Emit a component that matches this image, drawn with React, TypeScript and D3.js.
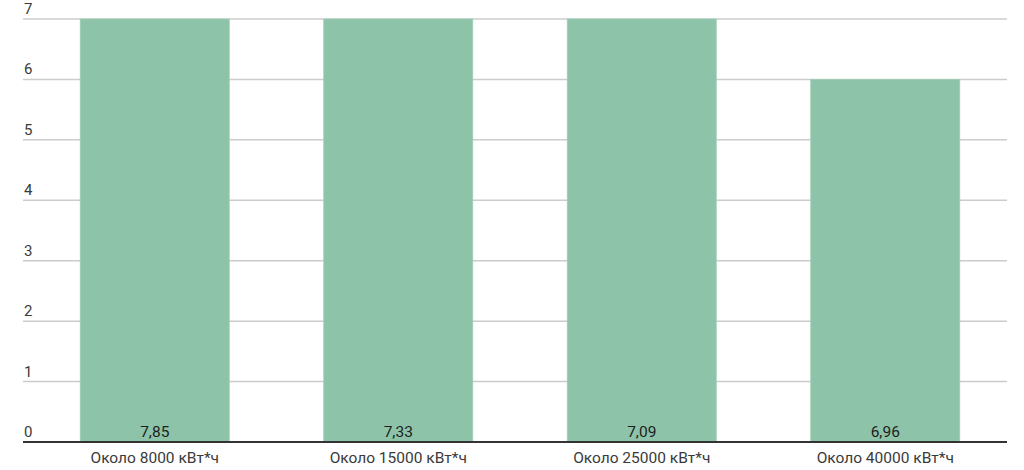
import React from "react";
import * as d3 from "d3";

const categories = ["Около 8000 кВт*ч", "Около 15000 кВт*ч", "Около 25000 кВт*ч", "Около 40000 кВт*ч"];
const barValues = [7, 7, 7, 6];
const valueLabels = ["7,85", "7,33", "7,09", "6,96"];
const yTicks = [0, 1, 2, 3, 4, 5, 6, 7];

const W = 1024;
const H = 470;
const gridLeft = 23;
const plotRight = 1007;

export default function App() {
  const x = d3.scaleBand<string>().domain(categories).range([33, plotRight]).paddingInner(0.388).paddingOuter(0.194);
  const y = d3.scaleLinear().domain([0, 7]).range([442, 19]);
  const font = "Roboto, 'Noto Sans', sans-serif";
  return (
    <svg width={W} height={H} style={{ position: "absolute", left: 0, top: 0, background: "#fff" }}>
      {yTicks.map((t) => (
        <g key={t}>
          {t !== 0 && (
            <line x1={gridLeft} x2={plotRight} y1={y(t)} y2={y(t)} stroke="#cccccc" strokeWidth={1.5} />
          )}
          <text x={gridLeft + 1} y={y(t) - 5} fontFamily={font} fontSize={15} fill="#3a3a3a">
            {t}
          </text>
        </g>
      ))}
      {categories.map((c, i) => (
        <g key={c}>
          <rect x={x(c)} y={y(barValues[i])} width={x.bandwidth()} height={y(0) - y(barValues[i])} fill="#8dc3a8" stroke="#9fcfb6" strokeWidth={0.8} />
          <text x={(x(c) as number) + x.bandwidth() / 2} y={y(0) - 5} textAnchor="middle" fontFamily={font} fontSize={15.5} fill="#1e1e1e">
            {valueLabels[i]}
          </text>
          <text x={(x(c) as number) + x.bandwidth() / 2} y={463} textAnchor="middle" fontFamily={font} fontSize={15.5} fill="#3a3a3a">
            {categories[i]}
          </text>
        </g>
      ))}
      <line x1={gridLeft} x2={plotRight} y1={y(0)} y2={y(0)} stroke="#333" strokeWidth={2} />
    </svg>
  );
}
